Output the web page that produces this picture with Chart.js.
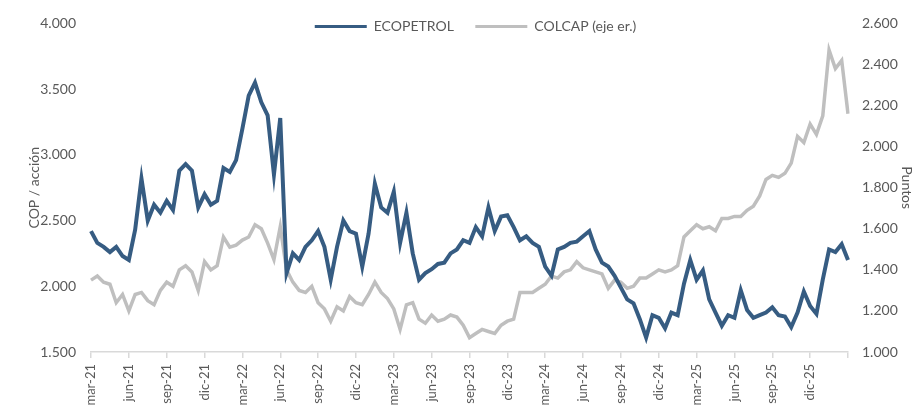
<!DOCTYPE html>
<html>
<head>
<meta charset="utf-8">
<script src="https://cdn.jsdelivr.net/npm/chart.js@4.4.1/dist/chart.umd.min.js"></script>
<style>
  html, body { margin: 0; padding: 0; background: #fff; overflow: hidden; }
  #wrap { width: 915px; height: 406px; position: relative; }
</style>
</head>
<body>
<div id="wrap"><canvas id="chart"></canvas></div>
<script>
// Semi-monthly observations, mar-21 .. mar-26
const monthNames = ['ene', 'feb', 'mar', 'abr', 'may', 'jun', 'jul', 'ago', 'sep', 'oct', 'nov', 'dic'];
const dates = [];
for (let i = 0; i <= 120; i++) {
    const m = 2 + Math.floor(i / 2);
    const day = i % 2 === 0 ? '1' : '16';
    dates.push(day + '-' + monthNames[m % 12] + '-' + String(21 + Math.floor(m / 12)));
}

// Axis tick labels shown every 3 months
const tickLabels = ['mar-21', 'jun-21', 'sep-21', 'dic-21', 'mar-22', 'jun-22', 'sep-22', 'dic-22',
    'mar-23', 'jun-23', 'sep-23', 'dic-23', 'mar-24', 'jun-24', 'sep-24', 'dic-24',
    'mar-25', 'jun-25', 'sep-25', 'dic-25'];

// ECOPETROL (COP / acción)
const ecopetrol = [
    2420, 2330, 2300, 2260, 2300, 2230, 2200, 2430, 2820, 2500,
    2620, 2560, 2650, 2580, 2880, 2930, 2880, 2600, 2700, 2620,
    2650, 2900, 2870, 2960, 3200, 3450, 3550, 3400, 3300, 2850,
    3280, 2100, 2250, 2200, 2300, 2350, 2420, 2300, 2050, 2300,
    2500, 2420, 2400, 2150, 2400, 2780, 2600, 2560, 2720, 2330,
    2560, 2250, 2050, 2100, 2130, 2170, 2180, 2250, 2280, 2350,
    2330, 2450, 2380, 2600, 2420, 2530, 2540, 2450, 2350, 2380,
    2330, 2300, 2150, 2080, 2280, 2300, 2330, 2340, 2380, 2420,
    2280, 2180, 2150, 2080, 1990, 1900, 1870, 1750, 1610, 1780,
    1760, 1680, 1800, 1780, 2020, 2200, 2050, 2120, 1900, 1800,
    1700, 1780, 1760, 1970, 1820, 1760, 1780, 1800, 1840, 1780,
    1770, 1690, 1800, 1960, 1850, 1790, 2050, 2280, 2260, 2320,
    2200
];

// COLCAP (puntos, eje derecho)
const colcap = [
    1350, 1370, 1340, 1330, 1240, 1280, 1200, 1280, 1290, 1250,
    1230, 1300, 1340, 1320, 1400, 1420, 1390, 1300, 1440, 1400,
    1420, 1560, 1510, 1520, 1545, 1560, 1620, 1600, 1530, 1450,
    1610, 1400, 1340, 1300, 1290, 1320, 1240, 1210, 1150, 1220,
    1200, 1270, 1240, 1230, 1280, 1340, 1290, 1260, 1210, 1110,
    1230, 1240, 1160, 1140, 1180, 1150, 1160, 1180, 1170, 1130,
    1070, 1090, 1110, 1100, 1090, 1130, 1150, 1160, 1290, 1290,
    1290, 1310, 1330, 1370, 1360, 1390, 1400, 1440, 1410, 1400,
    1390, 1380, 1310, 1350, 1340, 1310, 1320, 1360, 1360, 1380,
    1400, 1390, 1400, 1420, 1560, 1590, 1620, 1600, 1610, 1590,
    1650, 1650, 1660, 1660, 1690, 1710, 1760, 1840, 1860, 1850,
    1870, 1920, 2050, 2020, 2110, 2060, 2150, 2470, 2380, 2420,
    2160
];

const blue = '#365c82';
const gray = '#bfbfbf';
const textColor = '#595959';
const fontFamily = 'Lato, "Open Sans", sans-serif';

function thousands(v) {
    return String(v).replace(/\B(?=(\d{3})+(?!\d))/g, '.');
}

// Legend lives inside the plot area (like the Excel original): move it after layout
const legendInside = {
    id: 'legendInside',
    afterLayout(chart) {
        const lg = chart.legend;
        const dy = chart.chartArea.top - 4 - lg.top;
        lg.top += dy;
        lg.bottom += dy;
        lg.left += 6;
        lg.right += 6;
    }
};

const ctx = document.getElementById('chart').getContext('2d');
const chart = new Chart(ctx, {
    type: 'line',
    data: {
        labels: dates,
        datasets: [{
            label: 'ECOPETROL',
            data: ecopetrol,
            borderColor: blue,
            backgroundColor: blue,
            borderWidth: 4,
            pointRadius: 0,
            tension: 0,
            yAxisID: 'y'
        }, {
            label: 'COLCAP (eje er.)',
            data: colcap,
            borderColor: gray,
            backgroundColor: gray,
            borderWidth: 3.5,
            pointRadius: 0,
            tension: 0,
            yAxisID: 'y1'
        }]
    },
    plugins: [legendInside],
    options: {
        responsive: true,
        maintainAspectRatio: false,
        animation: false,
        layout: { padding: { top: -5, left: 0, right: 0, bottom: 0 } },
        plugins: {
            tooltip: { enabled: false },
            legend: {
                position: 'top',
                fullSize: false,
                align: 'center',
                labels: {
                    color: textColor,
                    font: { family: fontFamily, size: 14 },
                    boxWidth: 52,
                    boxHeight: 3,
                    padding: 0,
                    generateLabels: (c) => c.data.datasets.map((ds, i) => ({
                        text: i === 0 ? ds.label + '      ' : ds.label,
                        fillStyle: ds.borderColor,
                        strokeStyle: ds.borderColor,
                        lineWidth: 0,
                        fontColor: textColor,
                        datasetIndex: i
                    }))
                }
            }
        },
        scales: {
            x: {
                type: 'category',
                offset: false,
                afterFit: (s) => { s.height = 54; },
                border: { display: true, color: '#d9d9d9', width: 1.5 },
                grid: {
                    drawOnChartArea: false,
                    drawTicks: true,
                    tickLength: 6,
                    tickColor: (c) => (c.index % 6 === 0 ? '#d9d9d9' : 'rgba(0,0,0,0)'),
                    lineWidth: 1.5
                },
                ticks: {
                    autoSkip: false,
                    maxRotation: 90,
                    minRotation: 90,
                    padding: 6,
                    color: textColor,
                    font: { family: fontFamily, size: 13 },
                    callback: (v, i) => (i % 6 === 0 && tickLabels[i / 6]) ? tickLabels[i / 6] : ''
                }
            },
            y: {
                position: 'left',
                min: 1500,
                max: 4000,
                afterFit: (s) => { s.width = 91; },
                border: { display: false },
                grid: { display: false, drawTicks: false },
                ticks: {
                    stepSize: 500,
                    padding: 15,
                    color: textColor,
                    font: { family: fontFamily, size: 14 },
                    callback: (v) => thousands(v)
                },
                title: {
                    display: true,
                    text: 'COP / acción',
                    color: textColor,
                    font: { family: fontFamily, size: 14 },
                    padding: { top: 26, bottom: 0 }
                }
            },
            y1: {
                position: 'right',
                min: 1000,
                max: 2600,
                afterFit: (s) => { s.width = 67; },
                border: { display: false },
                grid: { display: false, drawTicks: false },
                ticks: {
                    stepSize: 200,
                    padding: 14,
                    color: textColor,
                    font: { family: fontFamily, size: 14 },
                    callback: (v) => thousands(v)
                },
                title: {
                    display: true,
                    text: 'Puntos',
                    color: textColor,
                    font: { family: fontFamily, size: 14 },
                    padding: { top: 0, bottom: 0 }
                }
            }
        }
    }
});
</script>
</body>
</html>
